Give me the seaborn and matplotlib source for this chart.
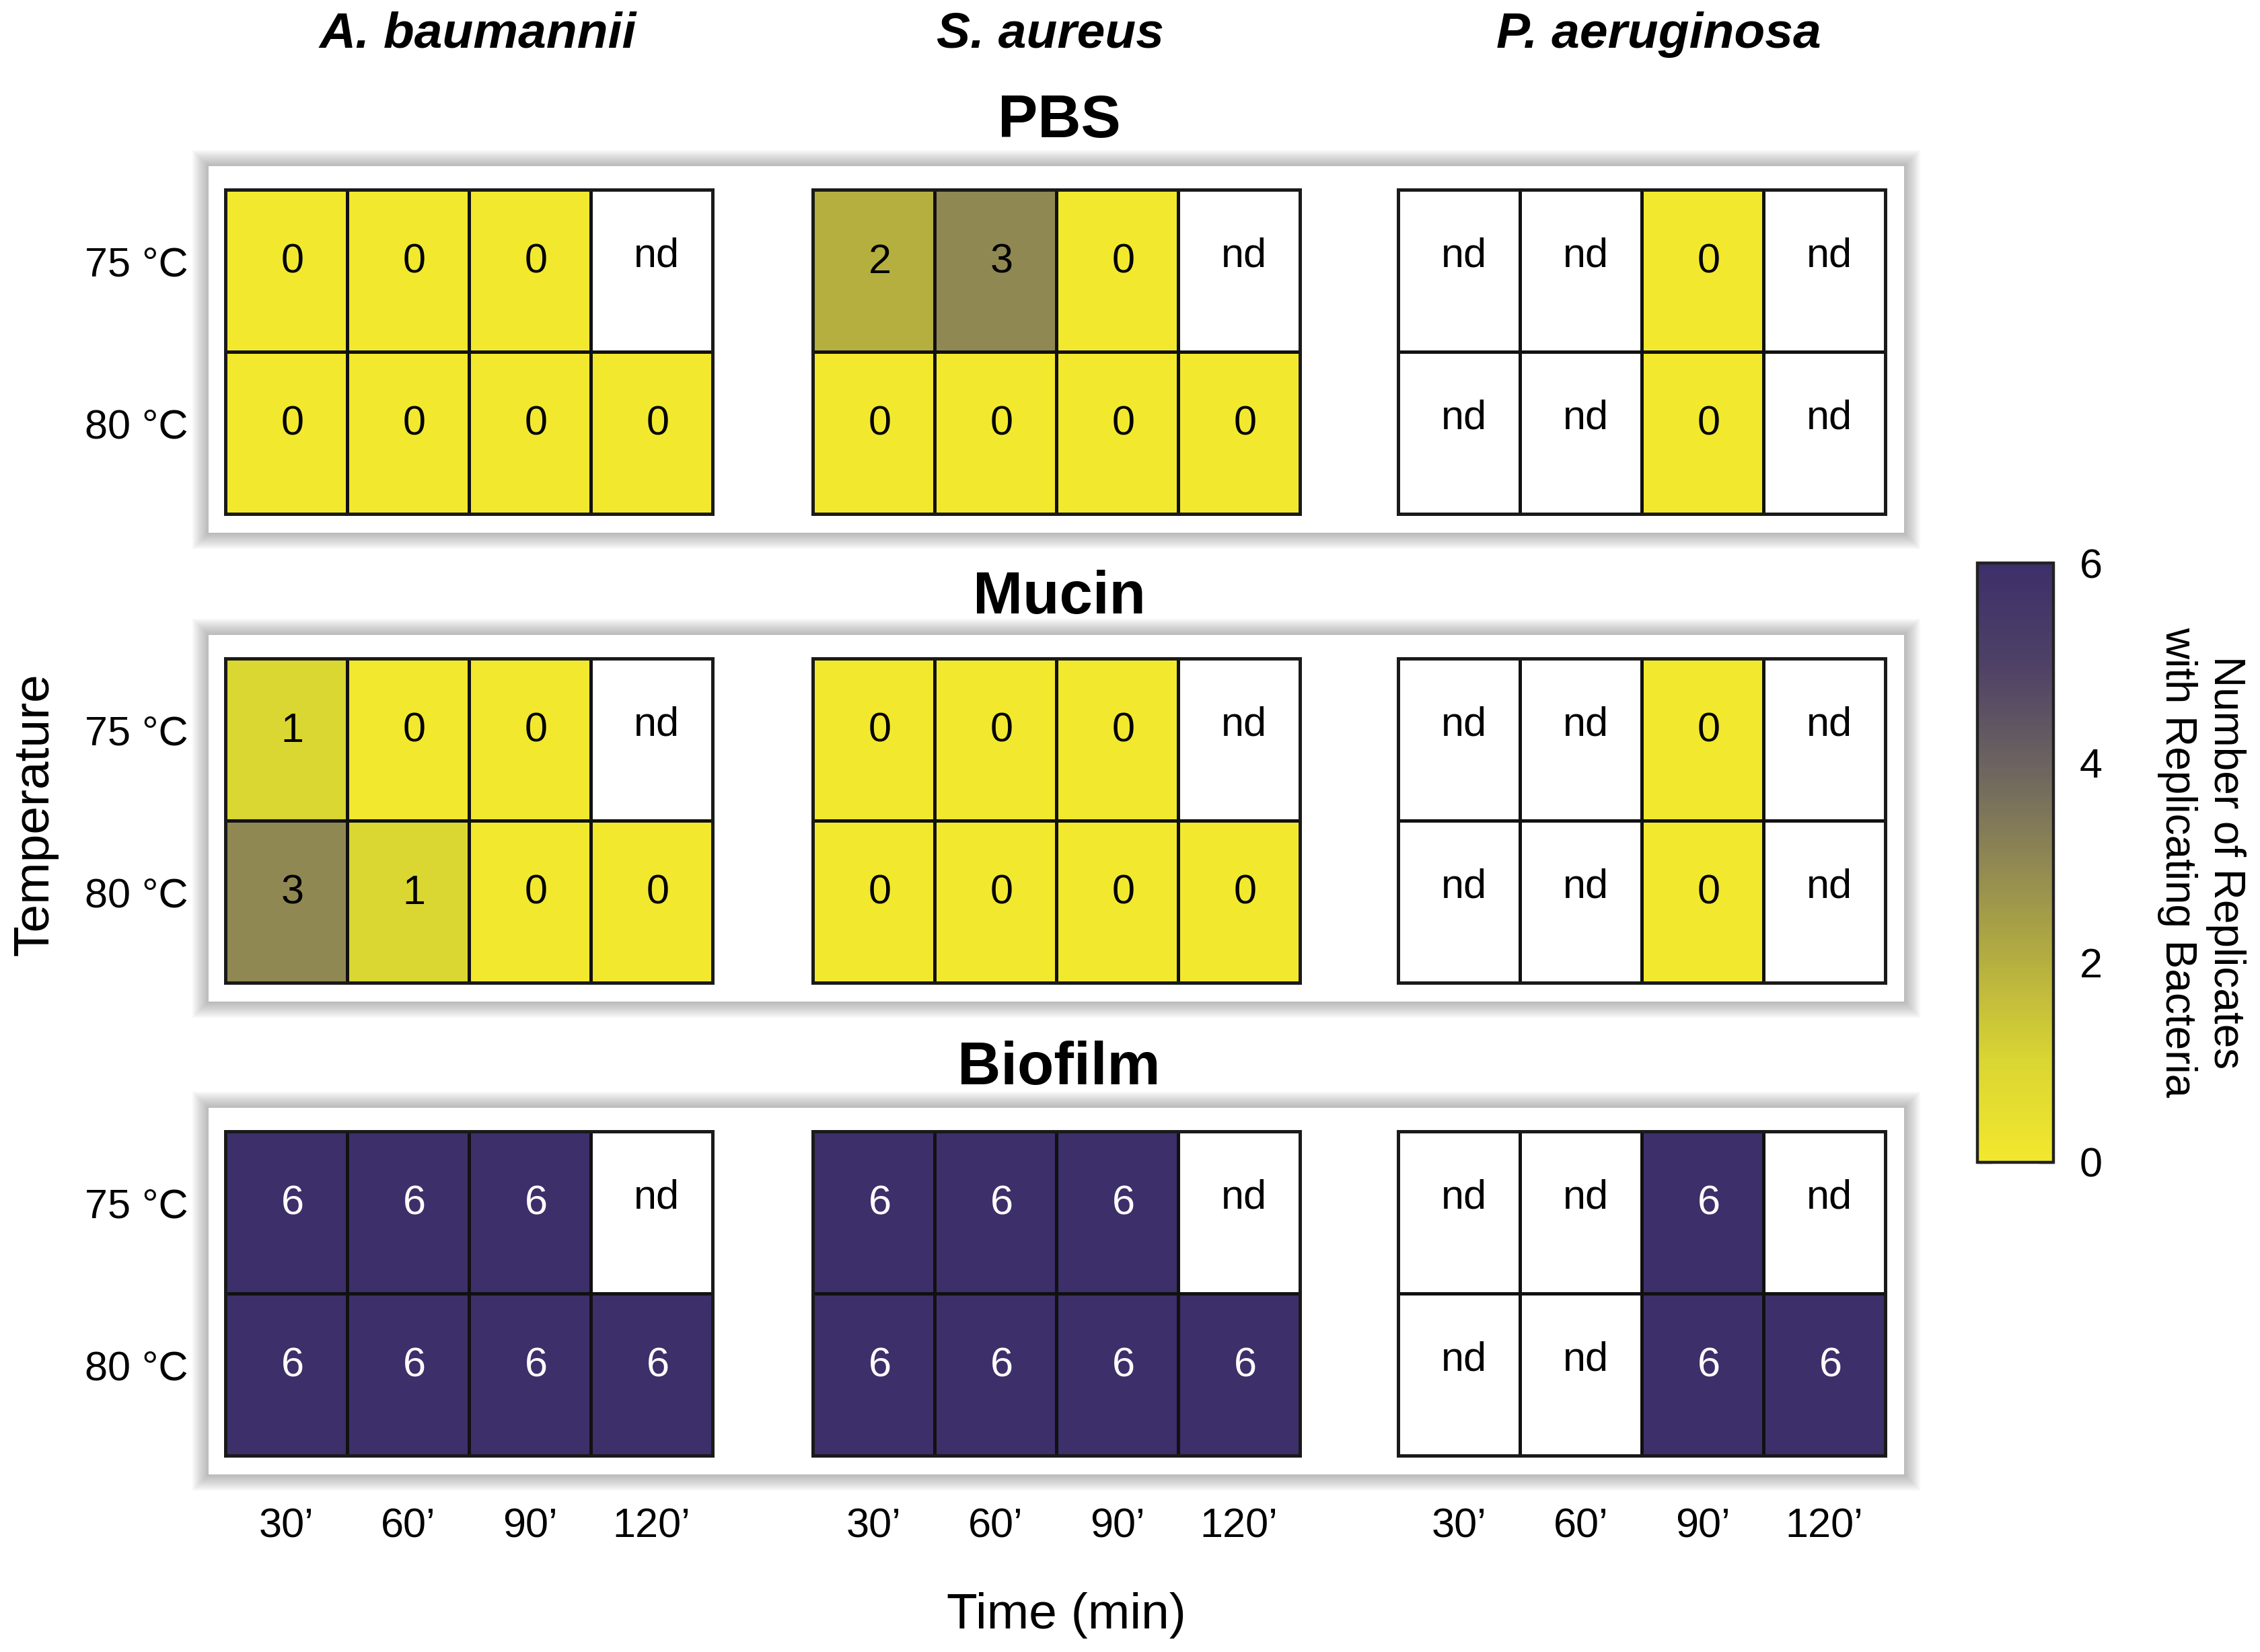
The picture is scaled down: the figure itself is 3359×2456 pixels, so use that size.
"""Replicating bacteria after heat treatment: heatmap grid by medium and species."""

import numpy as np
import matplotlib.pyplot as plt
import seaborn as sns
from matplotlib.colors import LinearSegmentedColormap, ListedColormap
from matplotlib.patches import Rectangle

sns.set_style("white")
plt.rcParams["font.family"] = ["Liberation Sans", "DejaVu Sans"]
plt.rcParams["text.color"] = "black"
plt.rcParams["xtick.color"] = "black"
plt.rcParams["ytick.color"] = "black"

# ---- data -------------------------------------------------------------
species = ["A. baumannii", "S. aureus", "P. aeruginosa"]
media = ["PBS", "Mucin", "Biofilm"]
temps = ["75 °C", "80 °C"]
times = ["30’", "60’", "90’", "120’"]
nd = np.nan  # not determined

pbs_ab = [[0, 0, 0, nd], [0, 0, 0, 0]]
pbs_sa = [[2, 3, 0, nd], [0, 0, 0, 0]]
pbs_pa = [[nd, nd, 0, nd], [nd, nd, 0, nd]]

mucin_ab = [[1, 0, 0, nd], [3, 1, 0, 0]]
mucin_sa = [[0, 0, 0, nd], [0, 0, 0, 0]]
mucin_pa = [[nd, nd, 0, nd], [nd, nd, 0, nd]]

biofilm_ab = [[6, 6, 6, nd], [6, 6, 6, 6]]
biofilm_sa = [[6, 6, 6, nd], [6, 6, 6, 6]]
biofilm_pa = [[nd, nd, 6, nd], [nd, nd, 6, 6]]

grid = [
    [pbs_ab, pbs_sa, pbs_pa],
    [mucin_ab, mucin_sa, mucin_pa],
    [biofilm_ab, biofilm_sa, biofilm_pa],
]

# ---- layout (in output pixels) ----------------------------------------
W, H, DPI = 3359, 2456, 200
col_left = [335, 1208, 2078]
cell_w = 724
row_top = [282, 979, 1682]
title_y = [181, 889, 1589]
cell_h = 482
panel_x = (310, 2830)


def fx(px):
    return px / W


def fy(py):
    return 1 - py / H


cmap = LinearSegmentedColormap.from_list(
    "replicates",
    ["#F2E82E", "#DAD632", "#B5AF40", "#908852", "#6B6360", "#4E4166", "#3D2F6A"],
)
white = ListedColormap(["white"])

fig = plt.figure(figsize=(W / DPI, H / DPI), dpi=DPI)


def draw_panel(top, bottom):
    x0, x1 = panel_x
    for i in range(12, 0, -1):
        e = i * 2.0
        fig.add_artist(Rectangle(
            (fx(x0 - e), fy(bottom + e)), (x1 - x0 + 2 * e) / W, (bottom - top + 2 * e) / H,
            transform=fig.transFigure, facecolor="#666666", alpha=0.045,
            edgecolor="none", zorder=-3,
        ))
    fig.add_artist(Rectangle(
        (fx(x0), fy(bottom)), (x1 - x0) / W, (bottom - top) / H,
        transform=fig.transFigure, facecolor="white", edgecolor="none", zorder=-2,
    ))


cax = fig.add_axes([fx(2939), fy(1728), (3052 - 2939) / W, (1728 - 837) / H])
cbar = None

for r, medium in enumerate(media):
    top = row_top[r]
    draw_panel(top - 35, top + cell_h + 28)
    fig.text(fx(1574), fy(title_y[r]), medium, ha="center", va="center",
             fontsize=32, fontweight="bold")

    for c, sp in enumerate(species):
        ax = fig.add_axes([fx(col_left[c]), fy(top + cell_h), cell_w / W, cell_h / H])
        vals = np.array(grid[r][c], dtype=float)
        labels = np.where(np.isnan(vals), "nd", "")

        # white base layer so that "nd" cells keep their outline
        sns.heatmap(np.zeros_like(vals), cmap=white, annot=labels, fmt="",
                    linewidths=1.2, linecolor="#111111", cbar=False,
                    xticklabels=False, yticklabels=False,
                    annot_kws={"fontsize": 22}, ax=ax)

        want_cbar = r == 2 and c == 0
        sns.heatmap(vals, cmap=cmap, vmin=0, vmax=6, annot=True, fmt=".0f",
                    linewidths=1.2, linecolor="#111111",
                    cbar=want_cbar, cbar_ax=cax if want_cbar else None,
                    cbar_kws={"ticks": [0, 2, 4, 6]},
                    xticklabels=False, yticklabels=False,
                    annot_kws={"fontsize": 22}, ax=ax)
        if want_cbar:
            cbar = ax.collections[-1].colorbar

        for t in ax.texts:
            s = t.get_text()
            x, y = t.get_position()
            if s == "nd":
                t.set_color("black")
                t.set_position((x + 0.04, y - 0.09))
            elif s:
                t.set_color("white" if float(s) > 4 else "black")
                t.set_position((x + 0.05, y - 0.05))

        for spine in ax.spines.values():
            spine.set_visible(True)
            spine.set_linewidth(1.8)
            spine.set_color("#1a1a1a")

        if c == 0:
            ax.set_yticks(np.arange(len(temps)) + 0.44)
            ax.set_yticklabels(temps, rotation=0, fontsize=22)
            ax.tick_params(axis="y", length=0, pad=20)
        if r == 2:
            ax.set_xticks(np.arange(len(times)) + 0.5)
            ax.set_xticklabels(times, rotation=0, fontsize=22)
            ax.tick_params(axis="x", length=0, pad=28)
        ax.set_xlabel("")
        ax.set_ylabel("")

# species headers
for x, sp in zip([710, 1561, 2465], species):
    fig.text(fx(x), fy(51), sp, ha="center", va="center",
             fontsize=27, fontweight="bold", fontstyle="italic")

fig.text(fx(52), fy(1211), "Temperature", rotation=90, ha="center", va="center", fontsize=27)
fig.text(fx(1585), fy(2402), "Time (min)", ha="center", va="center", fontsize=27)

# colorbar styling
cbar.outline.set_linewidth(1.6)
cbar.outline.set_edgecolor("#222222")
cax.tick_params(direction="in", length=8, width=1.2, left=True, right=True,
                labelsize=22, pad=14, color="#222222")
fig.text(fx(3272), fy(1282), "Number of Replicates\nwith Replicating Bacteria",
         rotation=-90, ha="center", va="center", fontsize=23, linespacing=1.25)

fig.savefig("out.png", dpi=DPI)
